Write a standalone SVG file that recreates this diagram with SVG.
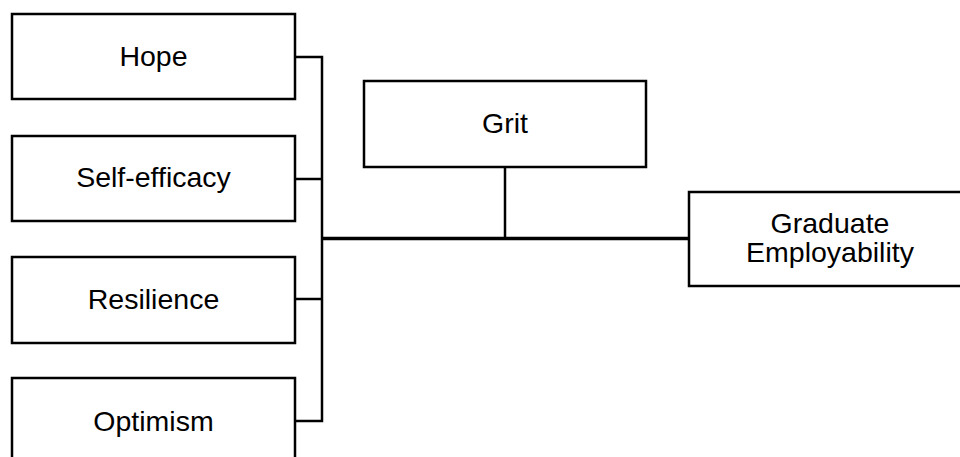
<svg xmlns="http://www.w3.org/2000/svg" width="960" height="457" viewBox="0 0 960 457">
<style>
.box{fill:#fff;stroke:#000;stroke-width:2.5}
.lbl{font-family:"Liberation Sans",Arial,sans-serif;font-size:28.5px;fill:#000;text-anchor:middle}
.c{stroke:#000;stroke-width:2.5;fill:none}
.m{stroke:#000;stroke-width:3.5;fill:none}
</style>
<rect width="960" height="457" fill="#fff"/>
<g id="connectors">
<polyline class="c" points="295,57 322,57 322,421 295,421"/>
<line class="c" x1="295" y1="179" x2="322" y2="179"/>
<line class="c" x1="295" y1="299" x2="322" y2="299"/>
<line class="m" x1="322" y1="238.5" x2="689" y2="238.5"/>
<line class="c" x1="505" y1="167" x2="505" y2="238"/>
</g>
<g id="hope"><rect class="box" x="12" y="14" width="283" height="85"/><text class="lbl" x="153.5" y="66">Hope</text></g>
<g id="selfefficacy"><rect class="box" x="12" y="136" width="283" height="85"/><text class="lbl" x="153.5" y="187">Self-efficacy</text></g>
<g id="resilience"><rect class="box" x="12" y="257" width="283" height="86"/><text class="lbl" x="153.5" y="309">Resilience</text></g>
<g id="optimism"><rect class="box" x="12" y="378" width="283" height="86"/><text class="lbl" x="153.5" y="431">Optimism</text></g>
<g id="grit"><rect class="box" x="364" y="81" width="282" height="86"/><text class="lbl" x="505" y="133">Grit</text></g>
<g id="graduate"><rect class="box" x="689" y="192" width="282" height="94"/><text class="lbl" x="830" y="233">Graduate</text><text class="lbl" x="830" y="262">Employability</text></g>
</svg>
